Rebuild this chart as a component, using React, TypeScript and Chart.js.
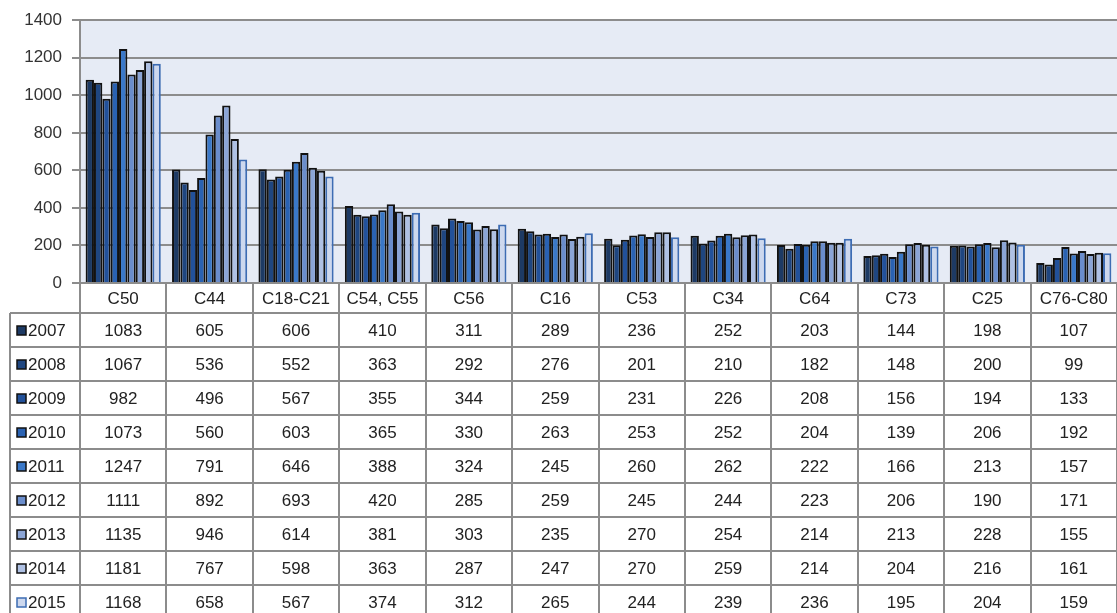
import React, { useEffect, useRef } from "react";
import { Chart, registerables } from "chart.js";

Chart.register(...registerables);

const categories = ["C50", "C44", "C18-C21", "C54, C55", "C56", "C16", "C53", "C34", "C64", "C73", "C25", "C76-C80"];
const years = ["2007", "2008", "2009", "2010", "2011", "2012", "2013", "2014", "2015"];
const v2007 = [1083, 605, 606, 410, 311, 289, 236, 252, 203, 144, 198, 107];
const v2008 = [1067, 536, 552, 363, 292, 276, 201, 210, 182, 148, 200, 99];
const v2009 = [982, 496, 567, 355, 344, 259, 231, 226, 208, 156, 194, 133];
const v2010 = [1073, 560, 603, 365, 330, 263, 253, 252, 204, 139, 206, 192];
const v2011 = [1247, 791, 646, 388, 324, 245, 260, 262, 222, 166, 213, 157];
const v2012 = [1111, 892, 693, 420, 285, 259, 245, 244, 223, 206, 190, 171];
const v2013 = [1135, 946, 614, 381, 303, 235, 270, 254, 214, 213, 228, 155];
const v2014 = [1181, 767, 598, 363, 287, 247, 270, 259, 214, 204, 216, 161];
const v2015 = [1168, 658, 567, 374, 312, 265, 244, 239, 236, 195, 204, 159];
const seriesValues = [v2007, v2008, v2009, v2010, v2011, v2012, v2013, v2014, v2015];
const yTicks = [0, 200, 400, 600, 800, 1000, 1200, 1400];

const fills = ["#1d3a64", "#1f4680", "#22519a", "#2a62b2", "#3a78c8", "#6a8dcc", "#8ba5d6", "#afc1e4", "#cdd8ee"];
const borders = ["#111111", "#111111", "#111111", "#111111", "#111111", "#111111", "#111111", "#111111", "#3d6cb3"];

const FONT = "'Liberation Sans', Arial, sans-serif";
const ROW_H = 34;
const HEADER_H = 30;
const LEGEND_LEFT = 10;
const LINE = "#8c8c8c";

const bgPlugin = {
  id: "plotBg",
  beforeDraw(chart: any) {
    const { ctx, chartArea } = chart;
    ctx.save();
    ctx.fillStyle = "#e6ebf5";
    ctx.fillRect(chartArea.left, chartArea.top, chartArea.right - chartArea.left, chartArea.bottom - chartArea.top);
    ctx.restore();
  },
};

const tablePlugin = {
  id: "dataTable",
  afterDraw(chart: any) {
    const { ctx, chartArea } = chart;
    const x = chart.scales.x;
    const H = chart.height;
    const catW = (chartArea.right - chartArea.left) / categories.length;
    const top = chartArea.bottom;
    const headerBottom = top + HEADER_H;
    ctx.save();
    ctx.strokeStyle = LINE;
    ctx.lineWidth = 2;
    for (let i = 0; i <= categories.length; i++) {
      const px = Math.round(chartArea.left + i * catW);
      ctx.beginPath();
      ctx.moveTo(px, top);
      ctx.lineTo(px, H);
      ctx.stroke();
    }
    ctx.beginPath();
    ctx.moveTo(LEGEND_LEFT, headerBottom);
    ctx.lineTo(LEGEND_LEFT, H);
    ctx.stroke();
    for (let r = 0; r <= years.length; r++) {
      const py = Math.round(headerBottom + r * ROW_H);
      ctx.beginPath();
      ctx.moveTo(LEGEND_LEFT, py);
      ctx.lineTo(chartArea.right, py);
      ctx.stroke();
    }
    ctx.fillStyle = "#222";
    ctx.font = `17px ${FONT}`;
    ctx.textAlign = "center";
    ctx.textBaseline = "middle";
    categories.forEach((c, i) => {
      ctx.fillText(c, x.getPixelForValue(i), top + HEADER_H / 2 + 1);
    });
    years.forEach((y, r) => {
      const cy = headerBottom + r * ROW_H + ROW_H / 2 + 1;
      seriesValues[r].forEach((v, i) => {
        ctx.textAlign = "center";
        ctx.fillStyle = "#222";
        ctx.fillText(String(v), x.getPixelForValue(i), cy);
      });
      ctx.fillStyle = fills[r];
      ctx.fillRect(17, cy - 5, 9, 9);
      ctx.lineWidth = 1.5;
      ctx.strokeStyle = borders[r];
      ctx.strokeRect(17, cy - 5, 9, 9);
      ctx.fillStyle = "#222";
      ctx.textAlign = "left";
      ctx.fillText(y, 28, cy);
    });
    ctx.restore();
  },
};

export default function App() {
  const ref = useRef<HTMLCanvasElement | null>(null);
  useEffect(() => {
    document.body.style.margin = "0";
    if (!ref.current) return;
    const chart = new Chart(ref.current, {
      type: "bar",
      data: {
        labels: categories,
        datasets: years.map((y, i) => ({
          label: y,
          data: seriesValues[i],
          backgroundColor: fills[i],
          borderColor: borders[i],
          borderWidth: 2,
          barPercentage: 1,
          categoryPercentage: 0.87,
        })),
      },
      options: {
        responsive: false,
        animation: false,
        layout: { padding: { top: 20, bottom: 330, left: 0, right: 0 } },
        plugins: { legend: { display: false }, tooltip: { enabled: false } },
        scales: {
          x: {
            grid: { display: false },
            ticks: { display: false },
            border: { display: false },
            afterFit: (s: any) => {
              s.height = 0;
            },
          },
          y: {
            min: 0,
            max: 1400,
            afterBuildTicks: (s: any) => {
              s.ticks = yTicks.map((v) => ({ value: v }));
            },
            grid: { color: LINE, lineWidth: 2, tickLength: 8 },
            border: { display: true, color: LINE, width: 2 },
            ticks: {
              padding: 10,
              color: "#333",
              font: { family: FONT, size: 17 },
              callback: (v: any) => String(v),
            },
            afterFit: (s: any) => {
              s.width = 80;
            },
          },
        },
      },
      plugins: [bgPlugin, tablePlugin],
    });
    return () => chart.destroy();
  }, []);
  return (
    <div style={{ width: 1117, height: 613 }}>
      <canvas ref={ref} width={1117} height={613} />
    </div>
  );
}
